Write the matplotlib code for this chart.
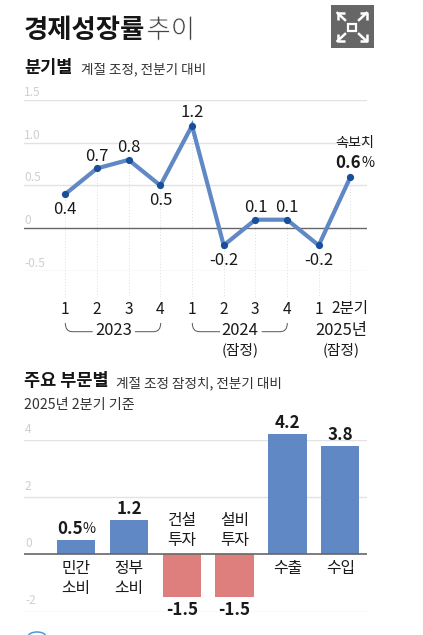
import matplotlib
matplotlib.use("Agg")
import matplotlib.pyplot as plt
import matplotlib.patheffects as pe
from matplotlib.patches import Rectangle, PathPatch, Arc
from matplotlib.path import Path

plt.rcParams['font.family'] = ['Noto Sans CJK KR', 'DejaVu Sans']

W, H = 423, 635

# quarterly growth
quarters = ['1', '2', '3', '4', '1', '2', '3', '4', '1', '2분기']
growth = [0.4, 0.7, 0.8, 0.5, 1.2, -0.2, 0.1, 0.1, -0.2, 0.6]
growth_labels = ['0.4', '0.7', '0.8', '0.5', '1.2', '-0.2', '0.1', '0.1', '-0.2', '']
line_ticks = [1.5, 1.0, 0.5, 0, -0.5]
line_tick_labels = ['1.5', '1.0', '0.5', '0', '-0.5']

# by sector, 2025 Q2
sectors = [['민간', '소비'], ['정부', '소비'], ['건설', '투자'], ['설비', '투자'], ['수출'], ['수입']]
sector_values = [0.5, 1.2, -1.5, -1.5, 4.2, 3.8]
sector_labels = ['0.5', '1.2', '-1.5', '-1.5', '4.2', '3.8']
bar_ticks = [4, 2, 0, -2]

BLUE = '#6088c4'
DOT = '#164f9a'
RED = '#de7f7e'
GRID = '#e2e2e2'
TICK = '#cfcfcf'
ZERO = '#666666'
INK = '#1a1a1a'
PT = 0.72  # points per pixel at 100 dpi


def make_axes(fig, left, top, right, bottom):
    return fig.add_axes([left / W, 1 - bottom / H, (right - left) / W, (bottom - top) / H])


def px_text(x, y, s, size, weight='normal', color=INK, ha='left', **kw):
    return overlay.text(x, y + 3, s, fontsize=size, fontweight=weight, color=color, ha=ha, va='center', **kw)


fig = plt.figure(figsize=(W / 100, H / 100), dpi=100, facecolor='white')

# pixel-space layer for headings and the icon
overlay = fig.add_axes([0, 0, 1, 1], zorder=5)
overlay.set_xlim(0, W)
overlay.set_ylim(H, 0)
overlay.axis('off')
overlay.patch.set_alpha(0)

# --- line chart ---
ax = make_axes(fig, 24, 100, 367, 271)
ax.set_ylim(-0.5, 1.5)
ax.set_xlim(24, 367)
ax.axis('off')
xs = [65.3 + 31.68 * i for i in range(len(growth))]
for v in line_ticks:
    ax.axhline(v, color=ZERO if v == 0 else GRID, lw=1.0, zorder=1)
ax.vlines(xs, growth, -0.8, color='#dddddd', lw=0.7, ls=(0, (1, 2)), zorder=0, clip_on=False)
ax.plot(xs, growth, color=BLUE, lw=3.0, solid_joinstyle='miter', zorder=3)
ax.plot(xs, growth, 'o', color=DOT, ms=5.2, mew=0, zorder=4)

offsets = [-15, 12, 12, -15, 13, -15, 12, 12, -15, 0]
for x, v, s, off in zip(xs, growth, growth_labels, offsets):
    ax.annotate(s, (x, v), xytext=(0, off * PT), textcoords='offset points',
                ha='center', va='center', fontsize=12, color=INK, zorder=6, annotation_clip=False)

for v, s in zip(line_ticks, line_tick_labels):
    ax.annotate(s, (24, v), xytext=(0, 7.5 * PT), textcoords='offset points', ha='left', va='center',
                fontsize=8.6, color=TICK, annotation_clip=False)

for x, s in zip(xs, quarters):
    px_text(x - 0.2, 306, s, 11.2, ha='center')

# year brackets
for x0, x1, gap0, gap1 in [(65.3, 160.7, 92.7, 135), (192.3, 287.3, 220, 261.7)]:
    y0, y1 = 323, 331.7
    codes = [Path.MOVETO, Path.CURVE3, Path.CURVE3, Path.LINETO]
    for xa, d, gap in [(x0, 7, gap0), (x1, -7, gap1)]:
        verts = [(xa, y0), (xa, y1), (xa + d, y1), (gap, y1)]
        overlay.add_patch(PathPatch(Path(verts, codes), fc='none', ec='#555555', lw=0.7))
px_text(113.5, 327.5, '2023', 11.9, ha='center')
px_text(240, 327.5, '2024', 11.9, ha='center')
px_text(240, 346.5, '(잠정)', 10.6, ha='center')
px_text(341, 327.5, '2025년', 11.9, ha='center')
px_text(341, 346.5, '(잠정)', 10.6, ha='center')

px_text(354.5, 139.5, '속보치', 10.2, ha='center')
px_text(335.7, 160, '0.6', 12.2, weight='bold')
px_text(361.5, 160, '%', 10.2)

# --- bar chart ---
ax2 = make_axes(fig, 24, 440, 367, 611.5)
ax2.set_ylim(-2, 4)
ax2.set_xlim(24, 367)
ax2.axis('off')
bar_x = [76.2 + 52.8 * i for i in range(len(sector_values))]
for v in bar_ticks:
    if v != 0:
        ax2.axhline(v, color=GRID, lw=1.0, zorder=1)
colors = [BLUE if v > 0 else RED for v in sector_values]
ax2.bar(bar_x, sector_values, width=38.3, color=colors, zorder=2, clip_on=False)
ax2.axhline(0, color=ZERO, lw=1.2, zorder=3)

for v in bar_ticks:
    ax2.annotate(str(v), (25, v), xytext=(0, 10.5 * PT), textcoords='offset points', ha='left', va='center',
                 fontsize=8.6, color=TICK, annotation_clip=False)

for x, v, s in zip(bar_x, sector_values, sector_labels):
    off = 11 if v > 0 else -13
    px = x - 6.5 if s == '0.5' else x
    ax2.annotate(s, (px, v), xytext=(0, off * PT), textcoords='offset points', ha='center', va='center',
                 fontsize=12.2, fontweight='bold', color=INK, zorder=6, annotation_clip=False)
    if s == '0.5':
        ax2.annotate('%', (x + 13, v), xytext=(0, off * PT), textcoords='offset points', ha='center',
                     va='center', fontsize=10.2, color=INK, zorder=6, annotation_clip=False)

for x, v, lines in zip(bar_x, sector_values, sectors):
    y = 566 if v > 0 else 518
    for i, line in enumerate(lines):
        px_text(x, y + 19.3 * i, line, 11.4, ha='center')

# --- headings ---
px_text(24, 27.5, '경제성장률', 19, weight='bold', color='#151515')
px_text(146.5, 27.5, '추이', 19, color='#444444',
        path_effects=[pe.Stroke(linewidth=0.5, foreground='white')])
px_text(24, 65, '분기별', 12.6, weight='bold', color='#151515')
px_text(81, 66.5, '계절 조정, 전분기 대비', 9.75, color='#333333')
px_text(24, 378, '주요 부문별', 12.6, weight='bold', color='#151515')
px_text(115.5, 380.5, '계절 조정 잠정치, 전분기 대비', 9.8, color='#333333')
px_text(24, 402.5, '2025년 2분기 기준', 10.2, color='#333333')

# expand icon
overlay.add_patch(Rectangle((331, 5), 43, 43, fc='#666666', ec='none'))
overlay.add_patch(Rectangle((348, 23.5), 8, 7.5, fc='none', ec='white', lw=1.6))
for cx, cy, sx, sy in [(337.5, 13, 1, 1), (366.5, 13, -1, 1), (337.5, 41, 1, -1), (366.5, 41, -1, -1)]:
    overlay.plot([cx + 7 * sx, cx, cx], [cy, cy, cy + 7 * sy], color='white', lw=1.8, solid_capstyle='butt')
    overlay.plot([cx, cx + 7.5 * sx], [cy, cy + 7 * sy], color='white', lw=1.8)

# start of the logo cut off by the lower edge
overlay.add_patch(Arc((37, 638), 20, 12, theta1=200, theta2=340, color='#4f97d6', lw=1.1))

fig.savefig('out.png', dpi=100)
